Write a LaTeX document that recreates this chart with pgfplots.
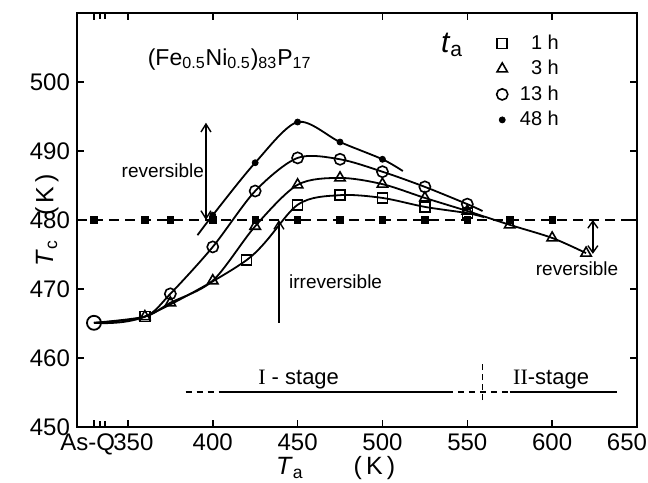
\documentclass[border=0pt]{standalone}
\usepackage{fontspec}
\setmainfont{Liberation Sans}
\newfontfamily\seriffont{Liberation Serif}
\usepackage{pgfplots}
\pgfplotsset{compat=1.18}
\usetikzlibrary{arrows.meta}

\begin{document}
\begin{tikzpicture}
\path[use as bounding box] (-38.5pt,-27.5pt) rectangle (285.5pt,213.5pt);
\begin{axis}[
  at={(0,0)}, anchor=south west,
  scale only axis, width=280pt, height=207pt,
  xmin=320, xmax=650, ymin=450, ymax=510,
  xtick={330,350,400,450,500,550,600,650},
  xticklabels={\makebox[0pt]{\hspace*{21pt}\makebox[0pt][r]{As-Q}},\makebox[0pt]{\hspace*{5.5pt}350},400,450,500,550,600,\makebox[0pt]{650\hspace*{10pt}}},
  ytick={450,460,470,480,490,500},
  extra x ticks={333.6,336.6}, extra x tick labels={},
  extra x tick style={major tick length=3pt},
  tick align=inside,
  major tick length=3.5pt,
  axis line style={line width=1pt},
  tick style={line width=0.8pt, black},
  /pgf/number format/assume math mode=true,
  /pgf/number format/1000 sep={},
  tick label style={font=\fontsize{12}{13}\selectfont},
  xlabel={\textit{T}\textsubscript{a}\hspace{25pt}(\,K\,)},
  ylabel={\textit{T}\textsubscript{c}\hspace{12pt}(\,K\,)},
  label style={font=\fontsize{12.5}{15}\selectfont},
  xlabel style={at={(axis description cs:0.462,0)}, anchor=base, yshift=-24pt},
  ylabel style={at={(axis description cs:-0.0536,0.5)}, anchor=center},
  legend style={draw=none, fill=none, at={(rel axis cs:0.879,0.968)}, anchor=north east,
    font=\fontsize{10}{11}\selectfont, row sep=0pt},
  legend cell align=right,
]
% reference dashed line at 480 K
\addplot[forget plot, black, line width=0.8pt, dash pattern=on 5pt off 3pt] coordinates {(320,480) (650,480)};
\addplot[forget plot, only marks, mark=square*, mark size=1.6pt, black] coordinates {
  (330,480) (360,480) (375,480) (400,480) (425,480) (450,480) (475,480) (500,480)
  (525,480) (550,480) (575,480) (600,480)};

% curves
\addplot[forget plot, black, line width=0.9pt, smooth] coordinates {
  (330,465.1) (360,466.0) (420,474.2) (450,482.2) (475,483.6) (500,483.2) (525,481.9) (550,481.0) (560,480.4)};
\addplot[forget plot, black, line width=0.9pt, smooth] coordinates {
  (330,465.1) (360,466.0) (375,468.0) (400,471.2) (425,479.1) (450,485.1) (475,486.1) (500,485.2) (525,483.2) (550,481.3) (575,479.3) (600,477.4) (620,475.2)};
\addplot[forget plot, black, line width=0.9pt, smooth] coordinates {
  (330,465.1) (360,466.0) (375,469.3) (400,476.1) (425,484.2) (450,489.0) (475,488.8) (500,487.0) (525,484.8) (550,482.3) (559,481.3)};
\addplot[forget plot, black, line width=0.9pt, smooth] coordinates {
  (391,477.8) (400,480.7) (425,488.3) (450,494.2) (475,491.3) (500,488.8) (512,487.1)};

% As-Q point
\addplot[forget plot, only marks, mark=o, mark size=3.5pt, line width=0.9pt, mark options={fill=white}] coordinates {(330,465.1)};

% markers
\addplot[only marks, mark=square, mark size=2.5pt, line width=0.8pt, mark options={fill=white}] coordinates {
  (360,466.0) (420,474.2) (450,482.2) (475,483.6) (500,483.2) (525,481.9) (550,481.0)};
\addlegendentry{\makebox[23.5pt][r]{1 h}}
\addplot[only marks, mark=triangle, mark size=3pt, line width=0.8pt, mark options={fill=white}] coordinates {
  (360,466.0) (375,468.0) (400,471.2) (425,479.1) (450,485.1) (475,486.1) (500,485.2) (525,483.2) (550,481.3) (575,479.3) (600,477.4) (620,475.2)};
\addlegendentry{\makebox[23.5pt][r]{3 h}}
\addplot[only marks, mark=o, mark size=2.8pt, line width=0.8pt, mark options={fill=white}] coordinates {
  (375,469.3) (400,476.1) (425,484.2) (450,489.0) (475,488.8) (500,487.0) (525,484.8) (550,482.3)};
\addlegendentry{\makebox[23.5pt][r]{13 h}}
\addplot[only marks, mark=*, mark size=1.5pt] coordinates {
  (400,480.7) (425,488.3) (450,494.2) (475,491.3) (500,488.8)};
\addlegendentry{\makebox[23.5pt][r]{48 h}}

% annotations
\node[font=\fontsize{11.5}{13}\selectfont] at (axis cs:410,503.3)
  {(Fe\textsubscript{0.5}Ni\textsubscript{0.5})\textsubscript{83}P\textsubscript{17}};
\node[font=\fontsize{15}{17}\selectfont] at (axis cs:541,505.4) {\textit{t}\textsubscript{a}};
\node[font=\fontsize{9.5}{11}\selectfont] at (axis cs:370.6,487.2) {reversible};
\node[font=\fontsize{9.5}{11}\selectfont] at (axis cs:472.4,471.0) {irreversible};
\node[font=\fontsize{9.5}{11}\selectfont] at (axis cs:614.7,473.0) {reversible};
\node[font=\fontsize{11}{13}\selectfont] at (axis cs:450.6,456.9) {{\seriffont I} - stage};
\node[font=\fontsize{11}{13}\selectfont] at (axis cs:599.4,456.9) {{\seriffont II}-stage};

\draw[<->, >={Straight Barb[length=4pt,width=5pt]}, line width=0.7pt] (axis cs:396,480) -- (axis cs:396,494.1);
\draw[->, >={Straight Barb[length=4pt,width=5pt]}, line width=0.7pt] (axis cs:439,465.1) -- (axis cs:439,480);
\draw[<->, >={Straight Barb[length=3.5pt,width=5pt]}, line width=0.7pt] (axis cs:624,475.1) -- (axis cs:624,480);

\draw[line width=0.8pt, dash pattern=on 3pt off 2.5pt] (axis cs:384,455.1) -- (axis cs:406,455.1);
\draw[line width=0.8pt] (axis cs:406,455.1) -- (axis cs:538,455.1);
\draw[line width=0.8pt, dash pattern=on 3pt off 2.5pt] (axis cs:538,455.1) -- (axis cs:575,455.1);
\draw[line width=0.8pt] (axis cs:575,455.1) -- (axis cs:638,455.1);
\draw[line width=0.8pt, dash pattern=on 3pt off 2pt] (axis cs:559,453.9) -- (axis cs:559,459.3);
\end{axis}
\end{tikzpicture}
\end{document}
